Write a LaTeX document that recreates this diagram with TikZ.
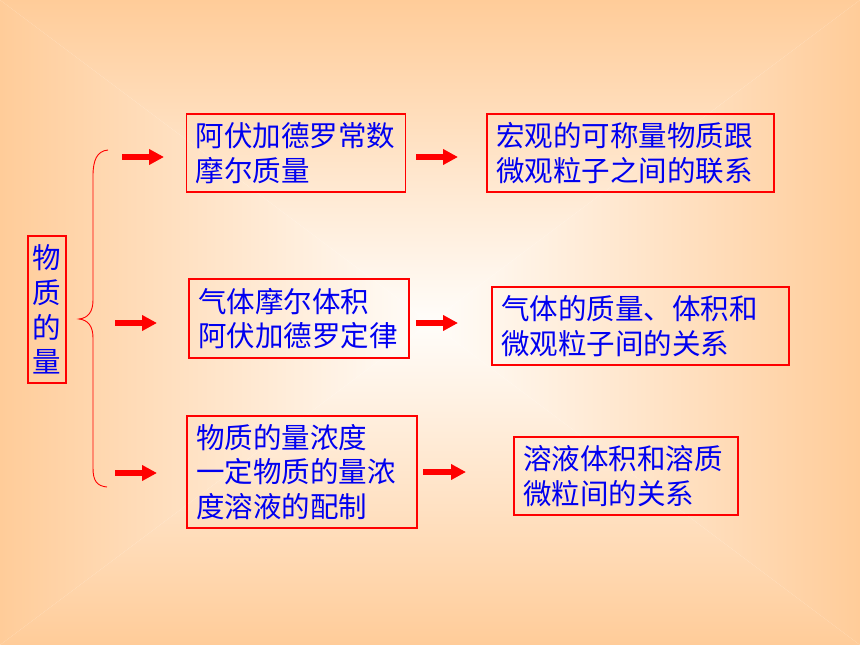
\documentclass[tikz,border=0pt]{standalone}
\usepackage{fontspec}
\setmainfont{Noto Sans CJK SC}
\usetikzlibrary{arrows.meta}
\definecolor{edgeor}{RGB}{255,204,153}
\definecolor{centerw}{RGB}{255,253,250}
\definecolor{txtblue}{RGB}{0,0,240}
\tikzset{
  box/.style={draw=red, line width=1.1pt, inner xsep=9pt, inner ysep=0pt, align=left,
    font=\fontsize{28.5}{34.5}\selectfont, text=txtblue},
  redarrow/.style={draw=red, line width=6pt, -{Triangle[length=15pt,width=15pt]}, red},
  bracepath/.style={draw=red, line width=0.9pt}
}
\begin{document}
\begin{tikzpicture}[x=1pt,y=-1pt]
\useasboundingbox (0,0) rectangle (860,645);
% background rectangular gradient
\shade[top color=edgeor, bottom color=centerw] (0,0) -- (860,0) -- (430,322.5) -- cycle;
\shade[top color=centerw, bottom color=edgeor] (0,645) -- (860,645) -- (430,322.5) -- cycle;
\shade[left color=edgeor, right color=centerw] (0,0) -- (0,645) -- (430,322.5) -- cycle;
\shade[left color=centerw, right color=edgeor] (860,0) -- (860,645) -- (430,322.5) -- cycle;

% left box
\node[draw=red, line width=1.1pt, minimum width=38pt, minimum height=147pt, inner sep=0pt,
  align=center, font=\fontsize{28.5}{34.8}\selectfont, text=txtblue] (root) at (47,309.5) {物\\质\\的\\量};

% middle boxes
\node[box, text width=201pt, minimum height=78pt] (a1) at (296,153) {阿伏加德罗常数\\摩尔质量};
\node[box, text width=202pt, minimum height=79pt] (b1) at (299,318.5) {气体摩尔体积\\阿伏加德罗定律};
\node[box, text width=212pt, minimum height=112pt] (c1) at (302,472) {物质的量浓度\\一定物质的量浓\\度溶液的配制};

% right boxes
\node[box, text width=269pt, minimum height=78pt] (a2) at (630.5,153) {宏观的可称量物质跟\\微观粒子之间的联系};
\node[box, text width=279pt, minimum height=78pt] (b2) at (640.5,326) {气体的质量、体积和\\微观粒子间的关系};
\node[box, text width=206pt, minimum height=78pt] (c2) at (626,476) {溶液体积和溶质\\微粒间的关系};

% brace
\coordinate (bt) at (108,150);
\coordinate (btip) at (79,319);
\coordinate (bb) at (107,487);
\draw[bracepath] (bt) .. controls (97,151) and (93,160) .. (93,176) -- (93,300)
  .. controls (93,312) and (88,318) .. (btip)
  .. controls (88,320) and (93,326) .. (93,338) -- (93,468)
  .. controls (93,481) and (97,486) .. (bb);

% arrows
\coordinate (l1s) at (122,157); \coordinate (l1e) at (164,157);
\coordinate (l2s) at (115,323); \coordinate (l2e) at (157,323);
\coordinate (l3s) at (115,473); \coordinate (l3e) at (157,473);
\coordinate (r1s) at (416,157); \coordinate (r1e) at (458,157);
\coordinate (r2s) at (416,323); \coordinate (r2e) at (458,323);
\coordinate (r3s) at (423,472); \coordinate (r3e) at (466,472);
\foreach \a in {l1,l2,l3,r1,r2,r3}{
  \draw[redarrow] (\a s) -- (\a e);
}
\end{tikzpicture}
\end{document}
